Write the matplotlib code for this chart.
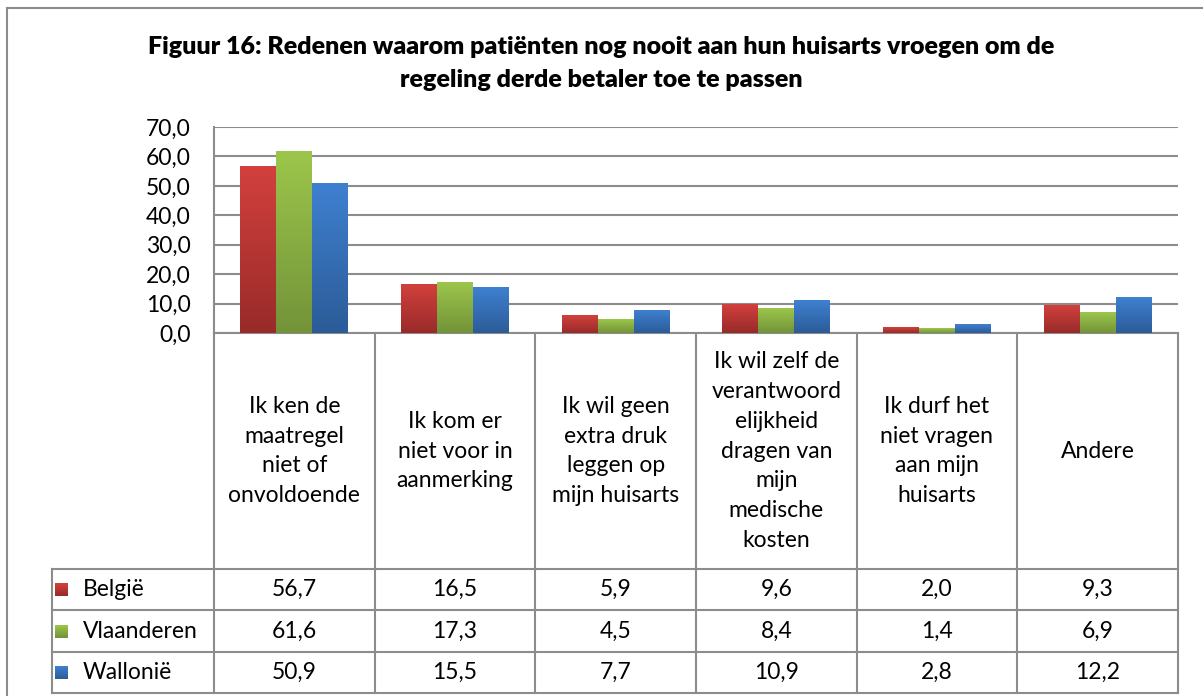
import numpy as np
import matplotlib.pyplot as plt
from matplotlib.colors import LinearSegmentedColormap

plt.rcParams['font.family'] = ['Lato', 'DejaVu Sans']

categories = ['Ik ken de\nmaatregel\nniet of\nonvoldoende',
              'Ik kom er\nniet voor in\naanmerking',
              'Ik wil geen\nextra druk\nleggen op\nmijn huisarts',
              'Ik wil zelf de\nverantwoord\nelijkheid\ndragen van\nmijn\nmedische\nkosten',
              'Ik durf het\nniet vragen\naan mijn\nhuisarts',
              'Andere']
series = ['België', 'Vlaanderen', 'Wallonië']
belgie = [56.7, 16.5, 5.9, 9.6, 2.0, 9.3]
vlaanderen = [61.6, 17.3, 4.5, 8.4, 1.4, 6.9]
wallonie = [50.9, 15.5, 7.7, 10.9, 2.8, 12.2]
yticks = [0, 10, 20, 30, 40, 50, 60, 70]

values = [belgie, vlaanderen, wallonie]
tops = ['#d2403d', '#9cc64b', '#3e80d0']
bottoms = ['#982b29', '#739339', '#2c5c98']

W, H = 1203, 696
fig = plt.figure(figsize=(W / 100, H / 100), dpi=100)
grid_c = '#8c8c8c'
fs = 16.5

# main bar axes
x0, x1, y0, y1 = 214, 1178, 333, 127
ax = fig.add_axes([x0 / W, 1 - y0 / H, (x1 - x0) / W, (y0 - y1) / H])
x = np.arange(len(categories))
bw = 0.224
for i, (vals, ct, cb) in enumerate(zip(values, tops, bottoms)):
    bars = ax.bar(x + (i - 1) * bw, vals, bw, color=ct, zorder=2)
    cmap = LinearSegmentedColormap.from_list('g%d' % i, [cb, ct])
    grad = np.linspace(0, 1, 100).reshape(-1, 1)
    for b in bars:
        ax.imshow(grad, cmap=cmap, origin='lower', aspect='auto', zorder=3,
                  extent=[b.get_x(), b.get_x() + b.get_width(), 0, b.get_height()])
ax.set_xlim(-0.5, len(categories) - 0.5)
ax.set_ylim(0, 70)
ax.set_yticks(yticks)
ax.set_yticklabels(['%d,0' % v for v in yticks], fontsize=fs)
ax.set_xticks([])
ax.yaxis.grid(True, color=grid_c, lw=1.5, zorder=0)
ax.set_axisbelow(True)
ax.tick_params(axis='y', length=0, pad=17)
for s in ['top', 'right']:
    ax.spines[s].set_visible(False)
for s in ['left', 'bottom']:
    ax.spines[s].set_color(grid_c)
    ax.spines[s].set_linewidth(1.5)

# overlay in pixel coords for title, table and frame
ov = fig.add_axes([0, 0, 1, 1], zorder=-1)
ov.set_xlim(0, W)
ov.set_ylim(H, 0)
ov.axis('off')

ov.plot([7, W], [8, 8], color='#8c8c8c', lw=1.5)
ov.plot([7, 7], [8, H], color='#8c8c8c', lw=1.5)

ov.text(601, 47, 'Figuur 16: Redenen waarom patiënten nog nooit aan hun huisarts vroegen om de',
        ha='center', va='center', fontsize=18, fontweight='heavy')
ov.text(601, 80, 'regeling derde betaler toe te passen',
        ha='center', va='center', fontsize=18, fontweight='heavy')

col_edges = np.linspace(x0, x1, len(categories) + 1)
row_edges = [569, 610, 652, 693]
for ce in col_edges:
    ov.plot([ce, ce], [y0, row_edges[-1]], color=grid_c, lw=1.5)
for re in row_edges:
    ov.plot([52, x1], [re, re], color=grid_c, lw=1.5)
ov.plot([52, 52], [row_edges[0], row_edges[-1]], color=grid_c, lw=1.5)

for j, cat in enumerate(categories):
    cx = (col_edges[j] + col_edges[j + 1]) / 2
    ov.text(cx, 451, cat, ha='center', va='center', fontsize=fs, linespacing=1.52)

for i, (name, vals, ct, cb) in enumerate(zip(series, values, tops, bottoms)):
    cy = (row_edges[i] + row_edges[i + 1]) / 2
    cmap = LinearSegmentedColormap.from_list('l%d' % i, [cb, ct])
    ov.imshow(np.linspace(1, 0, 20).reshape(-1, 1), cmap=cmap, aspect='auto',
              extent=[55, 68, cy + 7, cy - 6], zorder=3)
    ov.text(83, cy, name, ha='left', va='center', fontsize=fs)
    for j, v in enumerate(vals):
        cx = (col_edges[j] + col_edges[j + 1]) / 2
        ov.text(cx, cy, ('%.1f' % v).replace('.', ','), ha='center', va='center', fontsize=fs)
ov.set_xlim(0, W)
ov.set_ylim(H, 0)

fig.savefig('out.png', dpi=100)
